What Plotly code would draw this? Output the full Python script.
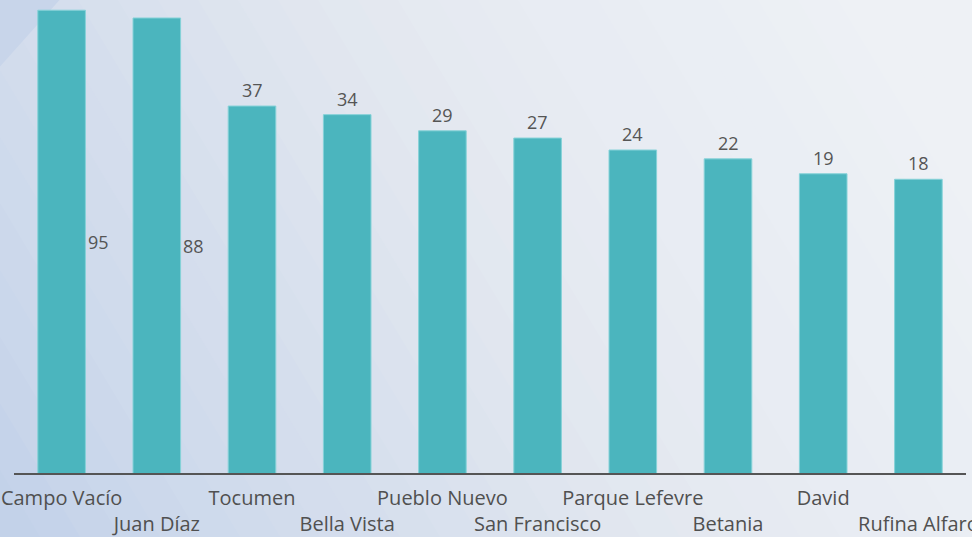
import math
import plotly.graph_objects as go

categories = ["Campo Vacío", "Juan Díaz", "Tocumen", "Bella Vista", "Pueblo Nuevo",
              "San Francisco", "Parque Lefevre", "Betania", "David", "Rufina Alfaro"]
values = [95, 88, 37, 34, 29, 27, 24, 22, 19, 18]

W, H = 972, 537
ML, MR, MT, MB = 14, 6, 0, 64
PW, PH = W - ML - MR, H - MT - MB
YTOP = PH / 234.0  # decades shown

def px_to_paper(x, y):
    return (x - ML) / PW, (H - MB - y) / PH

# background gradient (decoration)
stops = [(-400, (0xbf, 0xcf, 0xe8)), (0, (0xc2, 0xd1, 0xe9)), (250, (0xd0, 0xdb, 0xec)),
         (400, (0xd6, 0xdf, 0xed)), (600, (0xe0, 0xe6, 0xef)), (800, (0xe7, 0xeb, 0xf2)),
         (1000, (0xea, 0xee, 0xf4)), (1200, (0xee, 0xf1, 0xf5)), (1700, (0xf0, 0xf2, 0xf6))]

def col(d):
    for (a, ca), (b, cb) in zip(stops, stops[1:]):
        if a <= d <= b:
            t = (d - a) / (b - a)
            return "rgb(%d,%d,%d)" % tuple(round(ca[i] + (cb[i] - ca[i]) * t) for i in range(3))
    return "rgb(%d,%d,%d)" % stops[-1][1]

def poly(pts, color):
    pp = [px_to_paper(x, y) for x, y in pts]
    path = "M " + " L ".join("%.5f,%.5f" % p for p in pp) + " Z"
    return dict(type="path", xref="paper", yref="paper", path=path,
                fillcolor=color, line=dict(width=0), layer="below")

shapes = []
step = 40
d = -400
while d < 1700:
    a, b = d, d + step + 1
    shapes.append(poly([(a - 352, -50), (b - 352, -50), (b + 38, 600), (a + 38, 600)],
                       col(d + step / 2)))
    d += step
# darker corner triangle, top-left
shapes.append(poly([(-5, -5), (64, -5), (-5, 72)], "rgb(200,213,234)"))

ticktext = [c if i % 2 == 0 else "<br>" + c for i, c in enumerate(categories)]

fig = go.Figure(go.Bar(
    x=categories, y=values,
    marker=dict(color="#4bb5be", line=dict(color="#86d2d8", width=1)),
    hoverinfo="skip",
))

annotations = []
for c, v in zip(categories, values):
    lv = math.log10(v)
    if lv + 0.12 > YTOP:
        annotations.append(dict(x=c, y=lv / 2, text=str(v), showarrow=False,
                                xshift=37, font=dict(size=18, color="#555555",
                                                     family="Open Sans")))
    else:
        annotations.append(dict(x=c, y=lv, text=str(v), showarrow=False,
                                yanchor="bottom", yshift=2,
                                font=dict(size=18, color="#555555", family="Open Sans")))

fig.update_layout(
    width=W, height=H,
    margin=dict(l=ML, r=MR, t=MT, b=MB),
    paper_bgcolor="#e6ebf2", plot_bgcolor="rgba(0,0,0,0)",
    bargap=0.5, showlegend=False,
    shapes=shapes, annotations=annotations,
    font=dict(family="Open Sans", color="#505050", size=20),
    xaxis=dict(tickmode="array", tickvals=categories, ticktext=ticktext, tickangle=0,
               showline=True, linecolor="#555555", linewidth=2, showgrid=False,
               ticks="", ticklabelstandoff=6, automargin=False,
               tickfont=dict(size=20, color="#505050")),
    yaxis=dict(type="log", range=[0, YTOP], visible=False, showgrid=False),
)

fig.write_html("out.html", config={"displayModeBar": False},
               post_script="document.body.style.margin='0';document.body.style.overflow='hidden';")
